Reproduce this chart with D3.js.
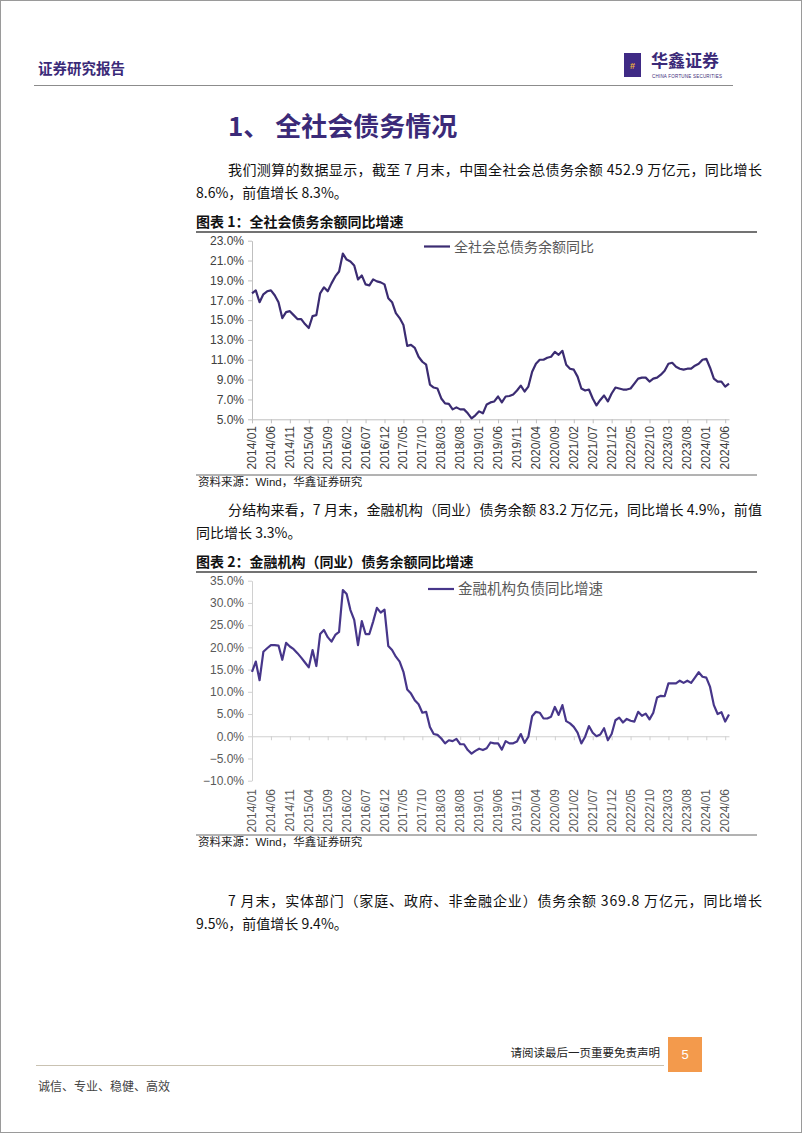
<!DOCTYPE html>
<html>
<head>
<meta charset="utf-8">
<script src="https://cdn.jsdelivr.net/npm/d3@7"></script>
<style>
  body { margin: 0; background: #fff; }
  svg { display: block; }
  .cn { font-family: "Noto Sans CJK SC", sans-serif; }
  .tick text { font-family: "Liberation Sans", Arial, sans-serif; }
</style>
</head>
<body>
<div id="page"></div>
<script>
// monthly categories 2014/01 .. 2024/07
var months = d3.timeMonth.range(new Date(2014, 0, 1), new Date(2024, 7, 1)).map(d3.timeFormat('%Y/%m'));

var tickLabels = ['2014/01', '2014/06', '2014/11', '2015/04', '2015/09', '2016/02', '2016/07', '2016/12',
  '2017/05', '2017/10', '2018/03', '2018/08', '2019/01', '2019/06', '2019/11', '2020/04', '2020/09',
  '2021/02', '2021/07', '2021/12', '2022/05', '2022/10', '2023/03', '2023/08', '2024/01', '2024/06'];

// 全社会总债务余额同比 (%)
var totalDebtYoY = [
  17.7, 18.0, 16.8, 17.6, 17.9, 18.0, 17.5, 16.8, 15.2, 15.8, 15.9, 15.5,
  15.1, 15.1, 14.6, 14.2, 15.4, 15.5, 17.7, 18.3, 17.9, 18.7, 19.4, 19.9,
  21.7, 21.1, 20.9, 20.5, 19.1, 19.5, 18.6, 18.5, 19.1, 18.9, 18.8, 18.6,
  17.2, 16.8, 15.7, 15.2, 14.5, 12.4, 12.5, 12.2, 11.3, 10.8, 10.5, 8.5,
  8.2, 8.1, 7.1, 6.6, 6.55, 6.0, 6.2, 6.0, 6.0, 5.6, 5.1, 5.4,
  5.8, 5.6, 6.5, 6.7, 6.8, 7.3, 6.7, 7.3, 7.35, 7.5, 7.9, 8.4,
  7.8, 8.3, 9.8, 10.6, 11.0, 11.0, 11.2, 11.3, 11.8, 11.5, 11.9, 10.5,
  10.1, 10.0, 9.3, 8.1, 7.9, 8.0, 7.1, 6.4, 6.95, 7.4, 6.8, 7.6,
  8.2, 8.1, 8.0, 8.0, 8.1, 8.6, 9.1, 9.2, 9.2, 8.8, 9.1, 9.2,
  9.5, 9.9, 10.6, 10.7, 10.3, 10.1, 10.0, 10.1, 10.1, 10.4, 10.6, 11.0,
  11.1, 10.2, 9.1, 8.8, 8.8, 8.3, 8.6
];

// 金融机构负债同比增速 (%)
var financialDebtYoY = [
  14.5, 16.8, 12.6, 19.0, 19.8, 20.5, 20.5, 20.4, 17.2, 21.0, 20.2, 19.6,
  18.7, 17.7, 16.6, 15.5, 19.4, 15.8, 23.0, 23.9, 22.3, 21.3, 22.8, 23.5,
  32.9, 32.0, 28.4, 26.2, 20.5, 25.9, 23.0, 23.0, 25.8, 28.9, 27.8, 28.5,
  20.3, 19.4, 17.9, 16.8, 14.5, 10.5, 9.6, 8.1, 7.2, 5.3, 5.5, 2.1,
  0.5, 0.3, -0.5, -1.6, -0.9, -1.1, -0.6, -1.8, -1.8, -3.1, -3.9, -3.3,
  -2.8, -3.1, -2.7, -1.4, -1.6, -1.6, -3.0, -1.1, -1.6, -1.6, -1.2, 0.5,
  -1.5, -0.1, 4.5, 5.5, 5.3, 4.0, 4.0, 4.4, 6.6, 4.8, 7.0, 3.4,
  2.9, 2.1, 0.8, -1.6, -0.1, 2.3, 0.8, 0.0, 0.4, 1.8, -0.9, 0.5,
  3.6, 4.2, 3.1, 3.9, 3.5, 3.3, 5.5, 4.6, 5.1, 3.8, 5.3, 8.7,
  9.1, 9.0, 11.9, 11.9, 11.9, 12.5, 12.0, 12.5, 12.0, 13.2, 14.4, 13.4,
  13.2, 11.1, 7.0, 5.0, 5.4, 3.3, 4.9
];

var yTicks1 = [5, 7, 9, 11, 13, 15, 17, 19, 21, 23];
var yTicks2 = [-10, -5, 0, 5, 10, 15, 20, 25, 30, 35];

var width = 802;
var height = 1133;
var purple = '#3b2a78';

var svg = d3.select('#page').append('svg')
  .attr('width', width)
  .attr('height', height);

svg.append('rect')
  .attr('x', 0.5).attr('y', 0.5)
  .attr('width', width - 1).attr('height', height - 1)
  .attr('fill', '#fff')
  .attr('stroke', '#9a9a9a');

// ---- header ----
svg.append('text')
  .attr('class', 'cn')
  .attr('x', 38).attr('y', 74)
  .attr('fill', purple)
  .style('font-size', '14.5px')
  .style('font-weight', 'bold')
  .text('证券研究报告');

svg.append('line')
  .attr('x1', 34).attr('x2', 733)
  .attr('y1', 85.5).attr('y2', 85.5)
  .attr('stroke', '#8c8c8c').attr('stroke-width', 1.2);

// logo
svg.append('rect')
  .attr('x', 624).attr('y', 53).attr('width', 17).attr('height', 24)
  .attr('fill', '#3f2a85');
svg.append('text')
  .attr('x', 632.5).attr('y', 69)
  .attr('text-anchor', 'middle')
  .attr('fill', '#f0b43c')
  .style('font-family', 'Liberation Sans')
  .style('font-size', '9px')
  .style('font-weight', 'bold')
  .text('#');
svg.append('text')
  .attr('class', 'cn')
  .attr('x', 651).attr('y', 67)
  .attr('fill', purple)
  .style('font-size', '17px')
  .style('font-weight', 'bold')
  .text('华鑫证券');
svg.append('text')
  .attr('x', 652).attr('y', 78)
  .attr('fill', purple)
  .attr('textLength', 70)
  .style('font-family', 'Liberation Sans')
  .style('font-size', '4.5px')
  .text('CHINA FORTUNE SECURITIES');

// ---- section title ----
svg.append('text')
  .attr('class', 'cn')
  .attr('x', 228).attr('y', 136)
  .attr('fill', purple)
  .style('font-size', '26px')
  .style('font-weight', 'bold')
  .text('1、 全社会债务情况');

// paragraph helper, first line justified
function para(y, line1, line2) {
  svg.append('text')
    .attr('class', 'cn')
    .attr('x', 228).attr('y', y)
    .attr('textLength', 534)
    .attr('lengthAdjust', 'spacing')
    .attr('fill', '#111')
    .style('font-size', '14px')
    .text(line1);
  svg.append('text')
    .attr('class', 'cn')
    .attr('x', 196).attr('y', y + 23)
    .attr('fill', '#111')
    .style('font-size', '14px')
    .text(line2);
}

function caption(y, txt) {
  svg.append('text')
    .attr('class', 'cn')
    .attr('x', 196).attr('y', y)
    .attr('fill', '#111')
    .style('font-size', '14px')
    .style('font-weight', 'bold')
    .text(txt);
  svg.append('line')
    .attr('x1', 196).attr('x2', 757)
    .attr('y1', y + 5).attr('y2', y + 5)
    .attr('stroke', '#444').attr('stroke-width', 1.3);
}

function source(y) {
  svg.append('line')
    .attr('x1', 196).attr('x2', 757)
    .attr('y1', y - 10).attr('y2', y - 10)
    .attr('stroke', '#666').attr('stroke-width', 1);
  var t = svg.append('text')
    .attr('class', 'cn')
    .attr('x', 198).attr('y', y + 1)
    .attr('fill', '#222')
    .style('font-size', '11.5px');
  t.append('tspan').text('资料来源：');
  t.append('tspan').style('font-family', 'Liberation Sans').text('Wind');
  t.append('tspan').text('，华鑫证券研究');
}

para(175, '我们测算的数据显示，截至 7 月末，中国全社会总债务余额 452.9 万亿元，同比增长',
  '8.6%，前值增长 8.3%。');
caption(227, '图表 1：全社会债务余额同比增速');

para(515, '分结构来看，7 月末，金融机构（同业）债务余额 83.2 万亿元，同比增长 4.9%，前值',
  '同比增长 3.3%。');
caption(567, '图表 2：金融机构（同业）债务余额同比增速');

para(906, '7 月末，实体部门（家庭、政府、非金融企业）债务余额 369.8 万亿元，同比增长',
  '9.5%，前值增长 9.4%。');

source(485);
source(845);

// ---- charts ----
var xScale = d3.scalePoint()
  .domain(months)
  .range([252, 729]);

function drawChart(opts) {
  var g = svg.append('g');
  var yScale = d3.scaleLinear()
    .domain(opts.domain)
    .range(opts.range);

  // y axis
  var yAxis = d3.axisLeft(yScale)
    .tickValues(opts.yTicks)
    .tickSize(4)
    .tickSizeOuter(0)
    .tickFormat(function(d) { return d3.format('.1f')(d) + '%'; });
  var yg = g.append('g')
    .attr('transform', 'translate(' + xScale.range()[0] + ',0)')
    .call(yAxis);
  yg.selectAll('path, line').attr('stroke', opts.axisColor);
  yg.selectAll('text')
    .attr('fill', opts.labelColor)
    .attr('x', -8)
    .style('font-size', '12px');

  // x axis
  var xAxis = d3.axisBottom(xScale)
    .tickValues(tickLabels)
    .tickSize(4)
    .tickSizeOuter(0)
    .tickFormat('');
  var xg = g.append('g')
    .attr('transform', 'translate(0,' + yScale(opts.xAxisAt) + ')')
    .call(xAxis);
  xg.selectAll('path, line').attr('stroke', opts.axisColor);

  // rotated month labels
  g.selectAll('.xlab')
    .data(tickLabels)
    .enter()
    .append('text')
    .attr('class', 'xlab')
    .attr('transform', function(d) {
      return 'translate(' + (xScale(d) + 4) + ',' + opts.labelTop + ') rotate(-90)';
    })
    .attr('text-anchor', 'end')
    .attr('fill', opts.labelColor)
    .style('font-family', '"Liberation Sans", Arial, sans-serif')
    .style('font-size', '12px')
    .text(function(d) { return d; });

  // series line
  var line = d3.line()
    .x(function(d, i) { return xScale(months[i]); })
    .y(function(d) { return yScale(d); });
  g.append('path')
    .datum(opts.values)
    .attr('d', line)
    .attr('fill', 'none')
    .attr('stroke', opts.lineColor)
    .attr('stroke-width', 2.2)
    .attr('stroke-linejoin', 'round');

  // legend
  g.append('line')
    .attr('x1', opts.legendX).attr('x2', opts.legendX + 26)
    .attr('y1', opts.legendY).attr('y2', opts.legendY)
    .attr('stroke', opts.lineColor).attr('stroke-width', 2.2);
  g.append('text')
    .attr('class', 'cn')
    .attr('x', opts.legendX + 30).attr('y', opts.legendY + 5)
    .attr('fill', '#595959')
    .style('font-size', opts.legendSize)
    .text(opts.legendText);
}

drawChart({
  values: totalDebtYoY,
  domain: [5, 23],
  range: [419.3, 240.7],
  yTicks: yTicks1,
  xAxisAt: 5,
  labelTop: 426,
  axisColor: '#bfbfbf',
  labelColor: '#404040',
  lineColor: '#3b2c72',
  legendX: 424,
  legendY: 246.5,
  legendSize: '14px',
  legendText: '全社会总债务余额同比'
});

drawChart({
  values: financialDebtYoY,
  domain: [-10, 35],
  range: [780.7, 580.7],
  yTicks: yTicks2,
  xAxisAt: 0,
  labelTop: 789,
  axisColor: '#d0d0d0',
  labelColor: '#595959',
  lineColor: '#47368a',
  legendX: 428,
  legendY: 589,
  legendSize: '14.5px',
  legendText: '金融机构负债同比增速'
});

// ---- footer ----
svg.append('text')
  .attr('class', 'cn')
  .attr('x', 660).attr('y', 1057)
  .attr('text-anchor', 'end')
  .attr('fill', '#222')
  .style('font-size', '11.5px')
  .text('请阅读最后一页重要免责声明');

svg.append('line')
  .attr('x1', 36).attr('x2', 664)
  .attr('y1', 1065.5).attr('y2', 1065.5)
  .attr('stroke', '#c9c2b2').attr('stroke-width', 1.2);

svg.append('rect')
  .attr('x', 668).attr('y', 1037).attr('width', 34).attr('height', 35)
  .attr('fill', '#f39a4c');
svg.append('text')
  .attr('x', 685).attr('y', 1059)
  .attr('text-anchor', 'middle')
  .attr('fill', '#fff')
  .style('font-family', '"Liberation Sans", Arial, sans-serif')
  .style('font-size', '13px')
  .text('5');

svg.append('text')
  .attr('class', 'cn')
  .attr('x', 38).attr('y', 1091)
  .attr('fill', '#444')
  .style('font-size', '12px')
  .text('诚信、专业、稳健、高效');
</script>
</body>
</html>
